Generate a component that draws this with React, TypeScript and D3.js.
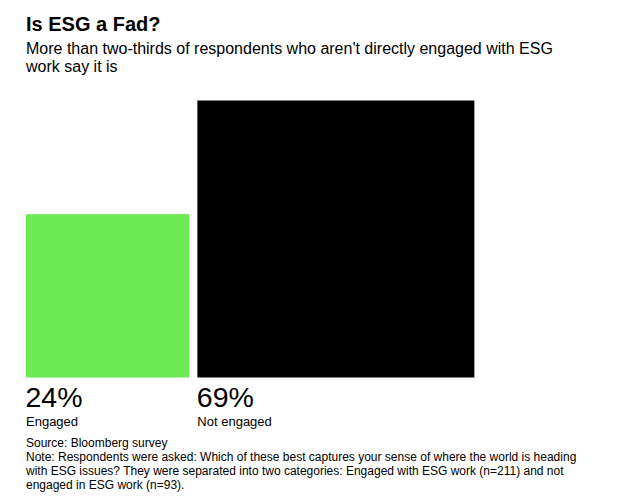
import React from "react";
import * as d3 from "d3";

const categories = ["Engaged", "Not engaged"];
const values = [24, 69];
const colors = ["#6ee956", "#000000"];

const title = "Is ESG a Fad?";
const subtitleLines = [
  "More than two-thirds of respondents who aren't directly engaged with ESG",
  "work say it is",
];
const footerLines = [
  "Source: Bloomberg survey",
  "Note: Respondents were asked: Which of these best captures your sense of where the world is heading",
  "with ESG issues? They were separated into two categories: Engaged with ESG work (n=211) and not",
  "engaged in ESG work (n=93).",
];

const W = 640;
const H = 498;
const FONT = "'Liberation Sans', Arial, Helvetica, sans-serif";

export default function App() {
  // Square side scales with sqrt(value) so that area encodes the share
  const side = d3.scaleSqrt().domain([0, d3.max(values) as number]).range([0, 277]);
  const baseY = 377.5;
  const left = 26;
  const gap = 8;

  const xs: number[] = [];
  let cursor = left;
  values.forEach((v) => {
    xs.push(cursor);
    cursor += side(v) + gap;
  });

  return (
    <svg
      width={W}
      height={H}
      style={{ position: "absolute", left: 0, top: 0, background: "#fff" }}
      fontFamily={FONT}
    >
      <text x={26} y={30.5} fontSize={20} fontWeight="bold" fill="#000">
        {title}
      </text>
      {subtitleLines.map((t, i) => (
        <text key={i} x={26} y={53.5 + i * 18} fontSize={16} fill="#000">
          {t}
        </text>
      ))}

      {values.map((v, i) => (
        <g key={categories[i]}>
          <rect
            x={xs[i]}
            y={baseY - side(v)}
            width={side(v)}
            height={side(v)}
            fill={colors[i]}
          />
          <text x={xs[i] - 0.5} y={baseY + 29.5} fontSize={28.5} fill="#000">
            {`${v}%`}
          </text>
          <text x={xs[i]} y={baseY + 48} fontSize={13} fill="#000">
            {categories[i]}
          </text>
        </g>
      ))}

      {footerLines.map((t, i) => (
        <text key={i} x={26} y={446.5 + i * 14} fontSize={12} fill="#000">
          {t}
        </text>
      ))}
    </svg>
  );
}
